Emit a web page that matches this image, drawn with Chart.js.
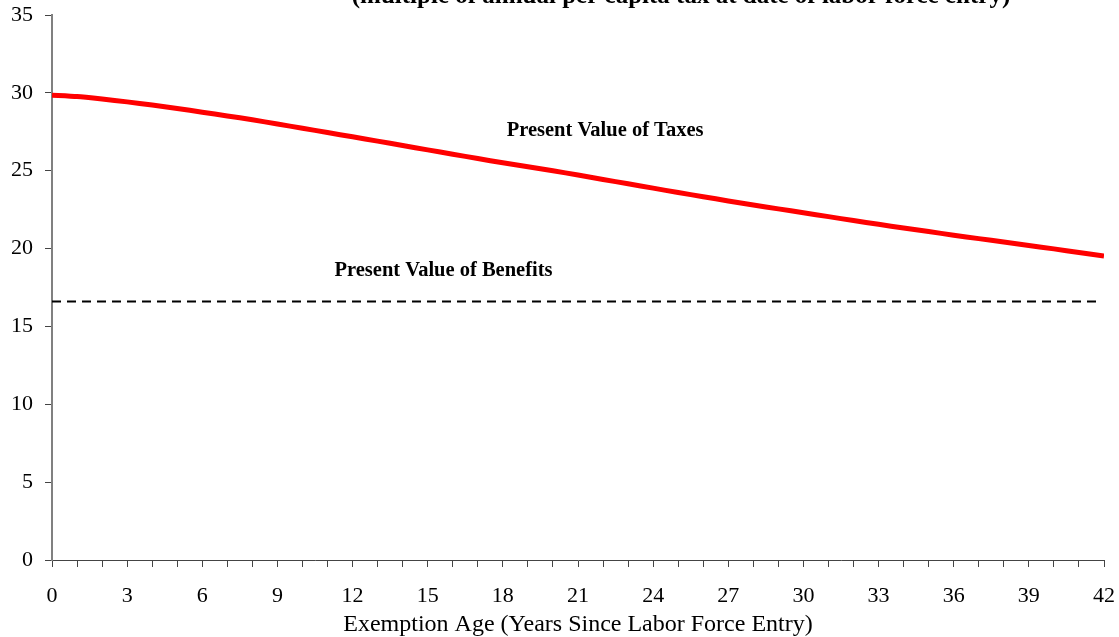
<!DOCTYPE html>
<html>
<head>
<meta charset="utf-8">
<script src="https://cdn.jsdelivr.net/npm/chart.js@4/dist/chart.umd.min.js"></script>
<style>
html,body{margin:0;padding:0;background:#fff;}
#wrap{width:1119px;height:637px;position:relative;}
</style>
</head>
<body>
<div id="wrap"><canvas id="c" width="1119" height="637"></canvas></div>
<script>
const years = [0,1,2,3,4,5,6,7,8,9,10,11,12,13,14,15,16,17,18,19,20,21,22,23,24,25,26,27,28,29,30,31,32,33,34,35,36,37,38,39,40,41,42];
const taxesPV = [29.85,29.76,29.6,29.42,29.22,29.0,28.76,28.52,28.27,28.0,27.73,27.45,27.18,26.9,26.62,26.34,26.06,25.78,25.51,25.25,25.0,24.72,24.44,24.16,23.88,23.6,23.33,23.06,22.8,22.55,22.3,22.05,21.8,21.56,21.32,21.09,20.86,20.64,20.42,20.2,19.98,19.75,19.52];
const benefitsPV = [16.6, 16.6];
const benefitsYears = [0, 41.8];
const yTicks = [0,5,10,15,20,25,30,35];
const xTickLabels = [0,3,6,9,12,15,18,21,24,27,30,33,36,39,42];
const titleText = "(multiple of annual per capita tax at date of labor force entry)";
const xAxisTitle = "Exemption Age (Years Since Labor Force Entry)";
const notes = [
  {text: "Present Value of Taxes", x: 22.08, y: 27.55},
  {text: "Present Value of Benefits", x: 15.63, y: 18.59}
];

const serif = "'Liberation Serif', 'Times New Roman', serif";

const overlay = {
  id: 'overlay',
  afterDraw(chart) {
    const ctx = chart.ctx;
    const xs = chart.scales.x, ys = chart.scales.y;
    ctx.save();
    ctx.fillStyle = '#000';
    ctx.textAlign = 'center';
    ctx.textBaseline = 'middle';
    ctx.font = "bold 20.5px " + serif;
    notes.forEach(n => ctx.fillText(n.text, xs.getPixelForValue(n.x), ys.getPixelForValue(n.y)));
    ctx.font = "bold 25px " + serif;
    ctx.textBaseline = 'alphabetic';
    ctx.fillText(titleText, 681, 3);
    ctx.restore();
  }
};

new Chart(document.getElementById('c'), {
  type: 'line',
  data: {
    datasets: [
      {
        data: years.map((x,i) => ({x, y: taxesPV[i]})),
        borderColor: '#ff0000',
        borderWidth: 5,
        pointRadius: 0,
        tension: 0.2,
        fill: false
      },
      {
        data: benefitsYears.map((x,i) => ({x, y: benefitsPV[i]})),
        borderColor: '#000',
        borderWidth: 2,
        borderDash: [9,6],
        pointRadius: 0,
        fill: false
      }
    ]
  },
  options: {
    responsive: false,
    animation: false,
    events: [],
    layout: {padding: {top: 15, right: 15, left: 0, bottom: 0}},
    plugins: {legend: {display: false}, tooltip: {enabled: false}, title: {display: false}},
    scales: {
      x: {
        type: 'linear',
        min: 0, max: 42,
        afterBuildTicks(s) { s.ticks = years.map(v => ({value: v})); },
        afterFit(s) { s.height = 77; s.paddingLeft = 0; s.paddingRight = 0; },
        grid: {display: true, drawOnChartArea: false, drawTicks: true, tickLength: 7, color: '#444', lineWidth: 1},
        border: {display: true, color: '#444', width: 1},
        ticks: {
          autoSkip: false, maxRotation: 0, padding: 16,
          color: '#000',
          font: {family: serif, size: 22},
          callback: v => xTickLabels.includes(v) ? String(v) : ''
        },
        title: {display: true, text: xAxisTitle, color: '#000', font: {family: serif, size: 24}, padding: {top: 0, bottom: -2}}
      },
      y: {
        min: 0, max: 35,
        afterBuildTicks(s) { s.ticks = yTicks.map(v => ({value: v})); },
        afterFit(s) { s.width = 52; s.paddingTop = 0; s.paddingBottom = 0; },
        grid: {display: true, drawOnChartArea: false, drawTicks: true, tickLength: 7, color: '#444', lineWidth: 1},
        border: {display: true, color: '#808080', width: 2},
        ticks: {
          padding: 12, color: '#000',
          font: {family: serif, size: 22}
        }
      }
    }
  },
  plugins: [overlay]
});
</script>
</body>
</html>
